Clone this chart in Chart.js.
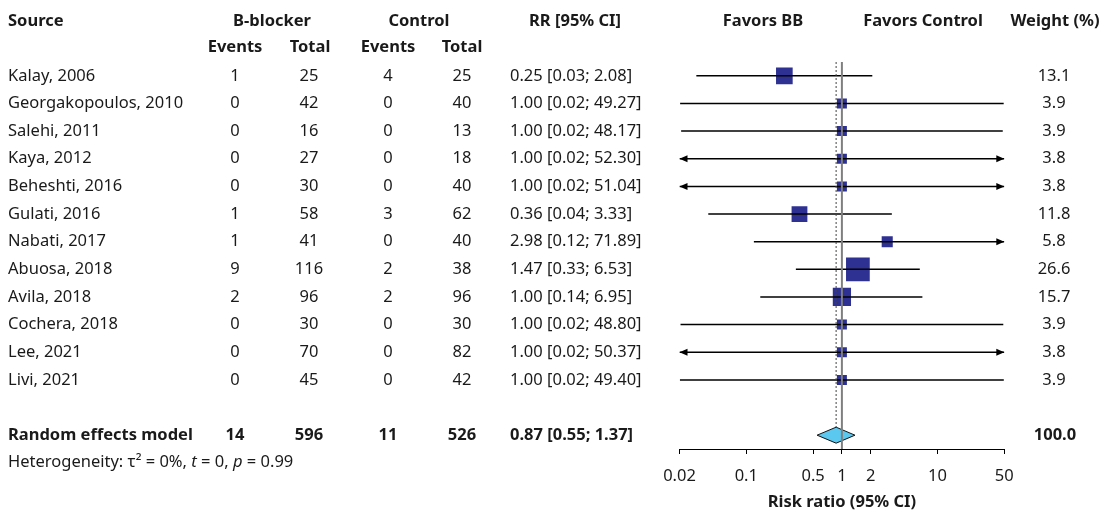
<!DOCTYPE html>
<html><head><meta charset="utf-8">
<script src="https://cdn.jsdelivr.net/npm/chart.js@4/dist/chart.umd.min.js"></script>
<style>html,body{margin:0;padding:0;background:#fff}canvas{display:block}</style>
</head><body>
<canvas id="c" width="1105" height="510"></canvas>
<script>
// ---- data ----
const studies = ['Kalay, 2006','Georgakopoulos, 2010','Salehi, 2011','Kaya, 2012','Beheshti, 2016','Gulati, 2016','Nabati, 2017','Abuosa, 2018','Avila, 2018','Cochera, 2018','Lee, 2021','Livi, 2021'];
const bbEvents   = [1, 0, 0, 0, 0, 1, 1, 9, 2, 0, 0, 0];
const bbTotal    = [25, 42, 16, 27, 30, 58, 41, 116, 96, 30, 70, 45];
const ctrlEvents = [4, 0, 0, 0, 0, 3, 0, 2, 2, 0, 0, 0];
const ctrlTotal  = [25, 40, 13, 18, 40, 62, 40, 38, 96, 30, 82, 42];
const rr     = [0.25, 1.00, 1.00, 1.00, 1.00, 0.36, 2.98, 1.47, 1.00, 1.00, 1.00, 1.00];
const ciLow  = [0.03, 0.0203, 0.0208, 0.0191, 0.0196, 0.04, 0.12, 0.33, 0.14, 0.0205, 0.0199, 0.0202];
const ciHigh = [2.08, 49.27, 48.17, 52.30, 51.04, 3.33, 71.89, 6.53, 6.95, 48.80, 50.37, 49.40];
const weights = [13.1, 3.9, 3.9, 3.8, 3.8, 11.8, 5.8, 26.6, 15.7, 3.9, 3.8, 3.9];
const pooledLabel = 'Random effects model';
const pooledCounts = [14, 596, 11, 526];   // BB events, BB total, control events, control total
const pooledRR = [0.87, 0.55, 1.37];       // estimate, lower, upper
const pooledWeight = 100.0;
const xTicks = [0.02, 0.1, 0.5, 1, 2, 10, 50];

// ---- styles ----
const FONT = '"Noto Sans", "Open Sans", sans-serif';
const FS = 16.5;
const TXT = '#1a1a1a';
const SQUARE = '#2e3192';
const DIAMOND = '#5bc8f0';
const XMIN = 0.02, XMAX = 50;
const pooledRow = studies.length + 1;

const lineDatasets = studies.map((s, i) => ({
  type: 'line',
  data: [{x: Math.max(ciLow[i], XMIN), y: i}, {x: Math.min(ciHigh[i], XMAX), y: i}],
  borderColor: '#000', borderWidth: 1.5, pointRadius: 0, order: 1, clip: 0
}));

const squareDataset = {
  type: 'scatter',
  data: rr.map((v, i) => ({x: v, y: i})),
  pointStyle: 'rect',
  pointRadius: weights.map(w => Math.max(10, 4.6 * Math.sqrt(w)) / Math.SQRT2),
  backgroundColor: SQUARE, borderWidth: 0, order: 2
};

function font(size, bold, italic) {
  return (italic ? 'italic ' : '') + (bold ? 'bold ' : '') + size + 'px ' + FONT;
}

const drawPlugin = {
  id: 'forest',
  afterDatasetsDraw(chart) {
    const ctx = chart.ctx, xs = chart.scales.x, ys = chart.scales.y, ca = chart.chartArea;
    ctx.save();
    // arrows for CIs beyond the axis
    ctx.fillStyle = '#000';
    studies.forEach((s, i) => {
      const y = ys.getPixelForValue(i);
      if (ciLow[i] < XMIN) {
        const x0 = xs.getPixelForValue(XMIN);
        ctx.beginPath(); ctx.moveTo(x0, y); ctx.lineTo(x0 + 8, y - 3.5); ctx.lineTo(x0 + 8, y + 3.5); ctx.closePath(); ctx.fill();
      }
      if (ciHigh[i] > XMAX) {
        const x1 = xs.getPixelForValue(XMAX);
        ctx.beginPath(); ctx.moveTo(x1, y); ctx.lineTo(x1 - 8, y - 3.5); ctx.lineTo(x1 - 8, y + 3.5); ctx.closePath(); ctx.fill();
      }
    });
    const yp = ys.getPixelForValue(pooledRow);
    const xp = xs.getPixelForValue(pooledRR[0]);
    // diamond
    const xl = xs.getPixelForValue(pooledRR[1]), xh = xs.getPixelForValue(pooledRR[2]);
    ctx.beginPath();
    ctx.moveTo(xl, yp); ctx.lineTo(xp, yp - 8); ctx.lineTo(xh, yp); ctx.lineTo(xp, yp + 8); ctx.closePath();
    ctx.fillStyle = DIAMOND; ctx.fill();
    ctx.strokeStyle = '#111'; ctx.lineWidth = 1; ctx.stroke();
    // reference line at 1
    const x1 = xs.getPixelForValue(1);
    ctx.strokeStyle = '#7f7f7f'; ctx.lineWidth = 2;
    ctx.beginPath(); ctx.moveTo(x1, ca.top); ctx.lineTo(x1, ca.bottom); ctx.stroke();
    // dashed line at pooled estimate
    ctx.strokeStyle = '#444'; ctx.lineWidth = 1; ctx.setLineDash([2, 2]);
    ctx.beginPath(); ctx.moveTo(xp, ca.top); ctx.lineTo(xp, yp - 8); ctx.stroke();
    ctx.setLineDash([]);
    ctx.restore();
  },
  afterDraw(chart) {
    const ctx = chart.ctx, ys = chart.scales.y;
    ctx.save();
    ctx.fillStyle = TXT;
    ctx.textBaseline = 'middle';
    const T = (t, x, y, align, f) => { ctx.font = f; ctx.textAlign = align; ctx.fillText(t, x, y); };
    const B = font(FS, true), N = font(FS, false);
    // headers
    const h1 = 21, h2 = 47;
    T('Source', 8, h1, 'left', B);
    T('B-blocker', 272, h1, 'center', B);
    T('Control', 419, h1, 'center', B);
    T('RR [95% CI]', 575, h1, 'center', B);
    T('Favors BB', 763, h1, 'center', B);
    T('Favors Control', 923, h1, 'center', B);
    T('Weight (%)', 1055, h1, 'center', B);
    T('Events', 235, h2, 'center', B);
    T('Total', 310, h2, 'center', B);
    T('Events', 388, h2, 'center', B);
    T('Total', 462, h2, 'center', B);
    const fmt = v => v.toFixed(2);
    studies.forEach((s, i) => {
      const y = ys.getPixelForValue(i);
      T(s, 8, y, 'left', N);
      T(String(bbEvents[i]), 235, y, 'center', N);
      T(String(bbTotal[i]), 309, y, 'center', N);
      T(String(ctrlEvents[i]), 388, y, 'center', N);
      T(String(ctrlTotal[i]), 462, y, 'center', N);
      T(fmt(rr[i]) + ' [' + fmt(ciLow[i]) + '; ' + fmt(ciHigh[i]) + ']', 510, y, 'left', N);
      T(weights[i].toFixed(1), 1054, y, 'center', N);
    });
    const yp = ys.getPixelForValue(pooledRow);
    T(pooledLabel, 8, yp, 'left', B);
    T(String(pooledCounts[0]), 235, yp, 'center', B);
    T(String(pooledCounts[1]), 309, yp, 'center', B);
    T(String(pooledCounts[2]), 388, yp, 'center', B);
    T(String(pooledCounts[3]), 462, yp, 'center', B);
    T(fmt(pooledRR[0]) + ' [' + fmt(pooledRR[1]) + '; ' + fmt(pooledRR[2]) + ']', 510, yp, 'left', B);
    T(pooledWeight.toFixed(1), 1055, yp, 'center', B);
    // heterogeneity
    const segs = [['Heterogeneity: τ² = 0%, ', false], ['t', true], [' = 0, ', false], ['p', true], [' = 0.99', false]];
    let x = 8; const yh = 462;
    ctx.textAlign = 'left';
    segs.forEach(([t, it]) => { ctx.font = font(FS, false, it); ctx.fillText(t, x, yh); x += ctx.measureText(t).width; });
    ctx.restore();
  }
};

new Chart(document.getElementById('c'), {
  data: { datasets: [...lineDatasets, squareDataset] },
  options: {
    responsive: false, animation: false, devicePixelRatio: 1,
    layout: { padding: { left: 679.5, right: 100.7, top: 62, bottom: 0 } },
    plugins: { legend: { display: false }, tooltip: { enabled: false } },
    events: [],
    scales: {
      x: {
        type: 'logarithmic', min: XMIN, max: XMAX, position: 'bottom',
        afterBuildTicks: s => { s.ticks = xTicks.map(v => ({ value: v })); },
        afterFit: s => { s.height = 61; },
        grid: { drawOnChartArea: false, drawTicks: true, tickLength: 5, color: '#000', lineWidth: 1 },
        border: { display: true, color: '#000', width: 1 },
        ticks: { autoSkip: false, maxRotation: 0, padding: 12, color: TXT, font: { family: FONT, size: FS }, callback: v => String(v) },
        title: { display: true, text: 'Risk ratio (95% CI)', color: TXT, padding: { top: 0, bottom: -2 }, font: { family: FONT, size: FS, weight: 'bold' } }
      },
      y: { type: 'linear', min: -0.5, max: 13.5, reverse: true, display: false }
    }
  },
  plugins: [drawPlugin]
});
</script>
</body></html>
